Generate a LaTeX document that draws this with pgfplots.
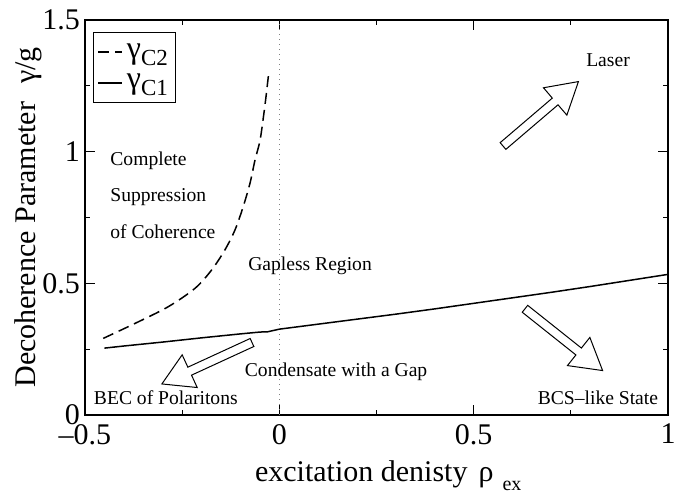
\documentclass[border=0pt]{standalone}
\usepackage{fontspec}
\setmainfont{Liberation Serif}
\usepackage{pgfplots}
\pgfplotsset{compat=1.18}
\newcommand{\hollowarrow}[2]{%
  \draw[line width=0.5pt, fill=white, shift={(axis cs:#1)}, rotate=#2]
    (0pt,-2.2pt) -- (34.3pt,-2.2pt) -- (34.3pt,-9pt) -- (49.6pt,0pt)
    -- (34.3pt,9pt) -- (34.3pt,2.2pt) -- (0pt,2.2pt) -- cycle;}
\begin{document}
\begin{tikzpicture}
\begin{axis}[
  scale only axis,
  width=291.5pt, height=197.5pt,
  xmin=-0.5, xmax=1, ymin=0, ymax=1.5,
  xtick={-0.5,0,0.5,1},
  xticklabels={--0.5,0,0.5,1},
  ytick={0,0.5,1,1.5},
  yticklabels={0,0.5,1,1.5},
  minor tick num=1,
  tick align=inside,
  major tick length=5pt,
  minor tick length=2.5pt,
  axis line style={line width=0.75pt},
  every tick/.style={black, line width=0.6pt},
  tick label style={font=\fontsize{15}{15}\selectfont},
  xticklabel style={yshift=-1pt},
  yticklabel style={xshift=1pt},
  xlabel={excitation denisty\hspace{0.37em}ρ\hspace{0.3em}\raisebox{-4.5pt}{\fontsize{10}{10}\selectfont ex}},
  ylabel={Decoherence Parameter\hspace{0.6em}γ/g},
  xlabel style={font=\fontsize{15}{18}\selectfont, at={(axis description cs:0.2796,-0.1696)}, anchor=base west},
  ylabel style={font=\fontsize{15}{18}\selectfont, at={(axis description cs:-0.0978,0.5)}, anchor=center},
  legend style={at={(axis description cs:0.0137,0.97)}, anchor=north west,
    draw=black, line width=0.5pt, font=\fontsize{16}{16}\selectfont,
    inner xsep=2pt, inner ysep=3.5pt, row sep=2.5pt,
    /tikz/every even column/.append style={column sep=2pt}},
  legend cell align=left,
  legend image code/.code={\draw[#1] (0pt,0pt) -- (12pt,0pt);},
  clip=false,
]
\draw[dotted, gray, line width=0.5pt] (axis cs:0,0) -- (axis cs:0,1.5);
\addplot[black, line width=0.75pt, dash pattern=on 5.5pt off 3pt, smooth, tension=0.5] coordinates {
(-0.453,0.291) (-0.371,0.348) (-0.286,0.411) (-0.217,0.481) (-0.174,0.551)
(-0.140,0.627) (-0.114,0.703) (-0.093,0.791) (-0.0755,0.880) (-0.0626,0.968)
(-0.05,1.04) (-0.042,1.12) (-0.035,1.2) (-0.028,1.29)};
\addlegendentry{γ\raisebox{-3.5pt}{\fontsize{11.5}{11.5}\selectfont C2}}
\addplot[black, line width=0.75pt] coordinates {
(-0.45,0.254) (-0.4,0.262) (-0.3,0.277) (-0.2,0.293) (-0.1,0.308) (-0.05,0.315)
(-0.03,0.316) (0,0.326) (0.1,0.345) (0.2,0.364) (0.3,0.383) (0.4,0.403) (0.5,0.424)
(0.6,0.445) (0.7,0.466) (0.8,0.488) (0.9,0.511) (1.0,0.534)};
\addlegendentry{γ\raisebox{-3.5pt}{\fontsize{11.5}{11.5}\selectfont C1}}
\hollowarrow{0.5755,1.0215}{40.5}
\hollowarrow{-0.0703,0.2753}{204.7}
\hollowarrow{0.632,0.4033}{-38.5}
\begin{scope}[font=\fontsize{9.8}{11}\selectfont]
\node[anchor=west, inner xsep=0pt] at (axis cs:-0.4357,0.9646) {Complete};
\node[anchor=west, inner xsep=0pt] at (axis cs:-0.4357,0.828) {Suppression};
\node[anchor=west, inner xsep=0pt] at (axis cs:-0.4357,0.695) {of Coherence};
\node at (axis cs:0.079,0.566) {Gapless Region};
\node at (axis cs:0.146,0.163) {Condensate with a Gap};
\node at (axis cs:-0.292,0.0646) {BEC of Polaritons};
\node at (axis cs:0.8197,0.0646) {BCS–like State};
\node at (axis cs:0.8457,1.348) {Laser};
\end{scope}
\end{axis}
\pgfresetboundingbox
\path[use as bounding box] ([shift={(-42.5pt,-39pt)}]current axis.south west) rectangle ([shift={(6.5pt,10pt)}]current axis.north east);
\end{tikzpicture}
\end{document}
